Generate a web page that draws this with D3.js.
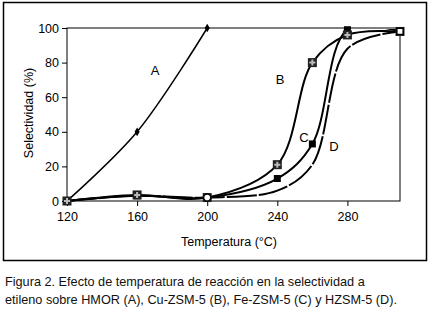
<!DOCTYPE html>
<html><head><meta charset="utf-8">
<script src="https://cdn.jsdelivr.net/npm/d3@7/dist/d3.min.js"></script>
<style>body{margin:0;background:#fff}svg{display:block}</style>
</head><body>
<svg id="c" width="432" height="309"></svg>
<script>
const temps = [120, 160, 200, 240, 260, 280, 310];
const tempsA = [120, 160, 200];
const seriesA = [0, 40, 100];
const seriesB = [0, 3.5, 2, 21, 80, 96, 98];
const seriesC = [0, 3, 2, 13, 33, 99, 98];
const seriesD = [0, 3, 2, 6, 21, 88, 98];
const xTicks = [120, 160, 200, 240, 280];
const yTicks = [0, 20, 40, 60, 80, 100];
const labels = [{t:"A", x:155, y:75}, {t:"B", x:280, y:84}, {t:"C", x:304, y:142}, {t:"D", x:334, y:151}];
const captionLines = ["Figura 2. Efecto de temperatura de reacción en la selectividad a",
  "etileno sobre HMOR (A), Cu-ZSM-5 (B), Fe-ZSM-5 (C) y HZSM-5 (D)."];

const svg = d3.select("#c");
const L = 67, R = 400, T = 28, B = 201;
const x = d3.scaleLinear().domain([120, 310]).range([L, R]);
const y = d3.scaleLinear().domain([0, 100]).range([B, T]);

svg.append("clipPath").attr("id", "pc").append("rect")
  .attr("x", L).attr("y", T + 1).attr("width", R - L + 10).attr("height", B - T + 10);

// outer frame
svg.append("rect").attr("x", 3.5).attr("y", 2.5).attr("width", 423).attr("height", 258)
  .attr("fill", "none").attr("stroke", "#000").attr("stroke-width", 1.5);
// plot box
svg.append("rect").attr("x", L).attr("y", T).attr("width", R - L).attr("height", B - T)
  .attr("fill", "none").attr("stroke", "#000").attr("stroke-width", 1);

const font = "Liberation Sans, Arial, sans-serif";
const xa = svg.append("g").attr("transform", `translate(0,${B})`)
  .call(d3.axisBottom(x).tickValues(xTicks).tickSize(5).tickPadding(6).tickFormat(d3.format("d")));
const ya = svg.append("g").attr("transform", `translate(${L},0)`)
  .call(d3.axisLeft(y).tickValues(yTicks).tickSize(5).tickPadding(3));
[xa, ya].forEach(g => {
  g.select(".domain").remove();
  g.selectAll("text").attr("font-family", font).attr("font-size", 12.5).attr("fill", "#000");
  g.selectAll("line").attr("stroke", "#000");
});

svg.append("text").attr("x", 229).attr("y", 246).attr("text-anchor", "middle")
  .attr("font-family", font).attr("font-size", 12.5).text("Temperatura (°C)");
svg.append("text").attr("transform", "translate(33,113) rotate(-90)").attr("text-anchor", "middle")
  .attr("font-family", font).attr("font-size", 12.5).text("Selectividad (%)");

const line = d3.line().x(d => x(d[0])).y(d => y(d[1])).curve(d3.curveCatmullRom.alpha(0.5));
const zip = (xs, ys) => xs.map((t, i) => [t, ys[i]]);

const dA = zip(tempsA, seriesA), dB = zip(temps, seriesB), dC = zip(temps, seriesC), dD = zip(temps, seriesD);
const lines = svg.append("g").attr("clip-path", "url(#pc)");
lines.append("path").attr("d", line(dD)).attr("fill", "none").attr("stroke", "#000").attr("stroke-width", 2).attr("stroke-dasharray", "30,2");
lines.append("path").attr("d", line(dC)).attr("fill", "none").attr("stroke", "#000").attr("stroke-width", 2);
lines.append("path").attr("d", line(dB)).attr("fill", "none").attr("stroke", "#000").attr("stroke-width", 2);
svg.append("path").attr("d", line(dA)).attr("fill", "none").attr("stroke", "#000").attr("stroke-width", 1.5);

// markers
svg.selectAll(".mA").data(dA).join("path").attr("transform", d => `translate(${x(d[0])},${y(d[1])})`)
  .attr("d", d3.symbol(d3.symbolDiamond, 22)).attr("fill", "#000");
svg.selectAll(".mC").data(dC).join("rect").attr("x", d => x(d[0]) - 3.5).attr("y", d => y(d[1]) - 3.5)
  .attr("width", 7).attr("height", 7).attr("fill", "#000");
const gB = svg.selectAll(".mB").data(dB).join("g").attr("transform", d => `translate(${x(d[0])},${y(d[1])})`);
gB.append("rect").attr("x", -4.5).attr("y", -4.5).attr("width", 9).attr("height", 9).attr("fill", "#222");
gB.append("path").attr("d", "M-3,0H3M0,-3V3").attr("stroke", "#bbb").attr("stroke-width", 2);
const dDm = dD.filter(d => d[0] === 200 || d[0] === 310);
svg.selectAll(".mD").data(dDm).join("path").attr("transform", d => `translate(${x(d[0])},${y(d[1])})`)
  .attr("d", (d, i) => d3.symbol(i === 0 ? d3.symbolCircle : d3.symbolSquare, 40)())
  .attr("fill", "#fff").attr("stroke", "#000").attr("stroke-width", 1.5);

svg.selectAll(".lbl").data(labels).join("text").attr("x", d => d.x).attr("y", d => d.y)
  .attr("text-anchor", "middle").attr("font-family", font).attr("font-size", 13).text(d => d.t);

svg.selectAll(".cap").data(captionLines).join("text").attr("x", 5).attr("y", (d, i) => 286 + i * 18)
  .attr("font-family", "Liberation Sans, Arial, sans-serif").attr("font-size", 12.7).attr("fill", "#111")
  .text(d => d);
</script>
</body></html>
